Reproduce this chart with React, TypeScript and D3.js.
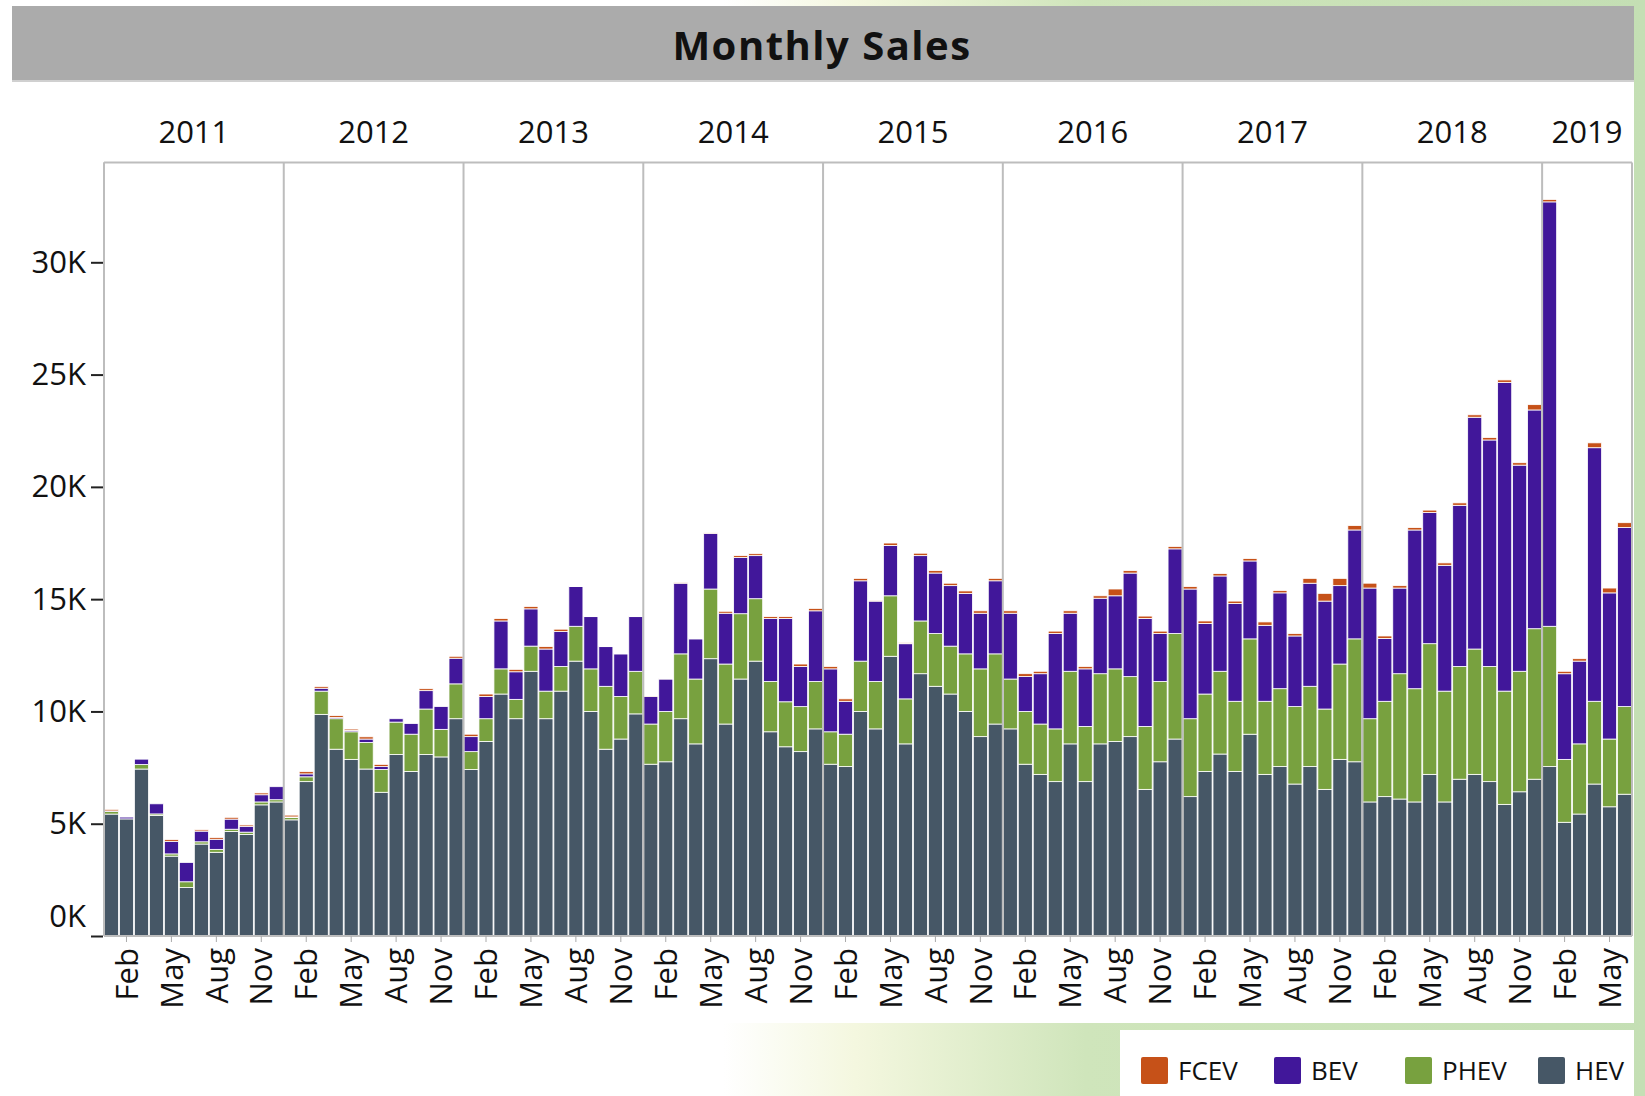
import React, { useEffect, useRef } from "react";
import * as d3 from "d3";

// --- data (units per month, Jan 2011 .. Jun 2019) ---
const years = ["2011", "2012", "2013", "2014", "2015", "2016", "2017", "2018", "2019"];
const monthNames = ["Jan", "Feb", "Mar", "Apr", "May", "Jun", "Jul", "Aug", "Sep", "Oct", "Nov", "Dec"];
const tickMonths = ["Feb", "May", "Aug", "Nov"];
const yTicks = [0, 5000, 10000, 15000, 20000, 25000, 30000];

const stackKeys = ["HEV", "PHEV", "BEV", "FCEV"];
const legendKeys = ["FCEV", "BEV", "PHEV", "HEV"];
const colors: Record<string, string> = {
  HEV: "#465766",
  PHEV: "#78a13f",
  BEV: "#41179a",
  FCEV: "#c65118"
};

const hev = [
  5430, 5215, 7435, 5366, 3556, 2155, 4095, 3728, 4655, 4525, 5840, 5969,
  5172, 6874, 9870, 8318, 7866, 7435, 6400, 8081, 7327, 8081, 7974, 9676,
  7413, 8663, 10775, 9676, 11788, 9676, 10904, 12240, 9999, 8318, 8771, 9891,
  7650, 7758, 9676, 8555, 12348, 9439, 11443, 12240, 9094, 8426, 8210, 9223,
  7650, 7543, 9999, 9223, 12456, 8555, 11680, 11120, 10775, 9999, 8878, 9439,
  9223, 7650, 7198, 6874, 8555, 6874, 8555, 8663, 8878, 6530, 7758, 8771,
  6206, 7327, 8103, 7327, 8986, 7198, 7543, 6767, 7543, 6530, 7866, 7758,
  5969, 6206, 6099, 5969, 7198, 5969, 6982, 7198, 6874, 5862, 6422, 6982,
  7543, 5064, 5431, 6767, 5754, 6314
];
const phev = [
  110, 0, 200, 70, 100, 260, 100, 130, 100, 100, 130, 100,
  100, 215, 1034, 1358, 1228, 1185, 1013, 1444, 1660, 2026, 1228, 1552,
  797, 1013, 1121, 862, 1121, 1228, 1099, 1552, 1896, 2801, 1896, 1896,
  1789, 2241, 2888, 2888, 3103, 2672, 2909, 2780, 2241, 2004, 2004, 2112,
  1444, 1444, 2241, 2112, 2694, 2004, 2349, 2349, 2133, 2565, 3017, 3125,
  2220, 2349, 2241, 2349, 3233, 2457, 3125, 3233, 2672, 2802, 3577, 4698,
  3470, 3448, 3685, 3125, 4245, 3254, 3470, 3448, 3577, 3577, 4245, 5474,
  3707, 4245, 5581, 5043, 5819, 4935, 5021, 5581, 5129, 5043, 5366, 6702,
  6249, 2801, 3125, 3685, 3017, 3901
];
const bev = [
  30, 80, 240, 450, 560, 860, 475, 450, 450, 260, 320, 580,
  30, 130, 130, 60, 60, 150, 130, 150, 474, 819, 1013, 1142,
  668, 991, 2133, 1228, 1659, 1875, 1552, 1767, 2327, 1767, 1896, 2435,
  1228, 1444, 3146, 1789, 2478, 2263, 2500, 1918, 2801, 3706, 1789, 3146,
  2801, 1465, 3577, 3577, 2241, 2457, 2909, 2694, 2694, 2694, 2478, 3254,
  2931, 1552, 2241, 4245, 2586, 2565, 3362, 3254, 4612, 4806, 2133, 3771,
  5775, 3146, 4245, 4353, 3470, 3383, 4267, 3146, 4590, 4806, 3491, 4849,
  5819, 2801, 3814, 7068, 5840, 5603, 7176, 10322, 10085, 13749, 9180, 9741,
  18899, 3814, 3685, 11292, 6508, 7974
];
const fcev = [
  70, 0, 0, 0, 80, 0, 60, 80, 80, 60, 80, 0,
  80, 100, 80, 80, 60, 100, 100, 0, 0, 86, 0, 86,
  108, 108, 108, 108, 108, 108, 108, 20, 20, 20, 20, 20,
  20, 20, 20, 20, 20, 86, 86, 86, 86, 86, 108, 108,
  108, 108, 108, 40, 108, 40, 108, 108, 108, 108, 108, 108,
  108, 130, 108, 108, 108, 108, 108, 302, 108, 108, 108, 108,
  108, 108, 108, 108, 108, 151, 108, 108, 216, 345, 323, 194,
  216, 108, 108, 108, 108, 108, 108, 108, 108, 108, 108, 237,
  108, 108, 108, 216, 216, 216
];

const W = 1645;
const H = 1096;
const FONT = "'Open Sans', 'Noto Sans', sans-serif";

export default function App() {
  const ref = useRef<SVGSVGElement>(null);

  useEffect(() => {
    const svg = d3.select(ref.current);
    svg.selectAll("*").remove();

    // rows, one per month
    const rows = hev.map((v, i) => {
      const year = years[Math.floor(i / 12)];
      const month = monthNames[i % 12];
      return {
        key: year + "-" + month,
        year,
        month,
        HEV: v,
        PHEV: phev[i],
        BEV: bev[i],
        FCEV: fcev[i]
      };
    });

    const left = 104;
    const right = 1632;
    const top = 162.6;
    const bottom = 936;

    const x = d3
      .scaleBand()
      .domain(rows.map(d => d.key))
      .range([left, right])
      .paddingInner(0.06)
      .paddingOuter(0.03);

    const y = d3.scaleLinear().domain([0, 34440]).range([bottom, top]);

    // background
    const defs = svg.append("defs");
    const grad = defs
      .append("linearGradient")
      .attr("id", "bg")
      .attr("x1", 0)
      .attr("x2", 1)
      .attr("y1", 0)
      .attr("y2", 0);
    grad.append("stop").attr("offset", 0).attr("stop-color", "#ffffff");
    grad.append("stop").attr("offset", 0.44).attr("stop-color", "#ffffff");
    grad.append("stop").attr("offset", 0.52).attr("stop-color", "#f4f7df");
    grad.append("stop").attr("offset", 0.66).attr("stop-color", "#cfe5bb");
    grad.append("stop").attr("offset", 1).attr("stop-color", "#c4dfb4");

    svg.append("rect").attr("width", W).attr("height", H).attr("fill", "url(#bg)");
    svg.append("rect").attr("x", 0).attr("y", 6).attr("width", 1634).attr("height", 1017).attr("fill", "#fff");
    svg.append("rect").attr("x", 1120).attr("y", 1030).attr("width", 514).attr("height", 66).attr("fill", "#fff");

    // title bar
    svg.append("rect").attr("x", 12).attr("y", 6).attr("width", 1622).attr("height", 74).attr("fill", "#ababab");
    svg.append("line").attr("x1", 12).attr("x2", 1634).attr("y1", 81).attr("y2", 81).attr("stroke", "#d0d0d0").attr("stroke-width", 2);
    svg
      .append("text")
      .attr("x", 822)
      .attr("y", 44)
      .attr("text-anchor", "middle")
      .attr("dominant-baseline", "central")
      .style("font-family", FONT)
      .style("font-weight", 700)
      .style("font-size", "40px")
      .style("letter-spacing", "1.5px")
      .attr("fill", "#111")
      .text("Monthly Sales");

    // stacked bars
    const series = d3.stack<any>().keys(stackKeys)(rows);
    svg
      .append("g")
      .selectAll("g")
      .data(series)
      .enter()
      .append("g")
      .attr("fill", s => colors[s.key])
      .selectAll("rect")
      .data(s => s)
      .enter()
      .append("rect")
      .attr("x", d => x(d.data.key) as number)
      .attr("width", x.bandwidth())
      .attr("y", d => y(d[1]))
      .attr("height", d => Math.max(0, y(d[0]) - y(d[1])))
      .attr("stroke", "#fff")
      .attr("stroke-width", 0.8);

    // frame and year separators
    const half = (x.step() * x.paddingInner()) / 2;
    const yearStarts = years.map(yr => {
      const first = rows.find(r => r.year === yr)!;
      return x(first.key)! - half;
    });
    const frame = svg.append("g").attr("stroke", "#bdbdbd").attr("stroke-width", 2);
    frame.append("line").attr("x1", left).attr("x2", right).attr("y1", top).attr("y2", top);
    frame.append("line").attr("x1", left).attr("x2", right).attr("y1", bottom).attr("y2", bottom);
    frame.append("line").attr("x1", right).attr("x2", right).attr("y1", top).attr("y2", bottom);
    frame
      .selectAll(".sep")
      .data(yearStarts)
      .enter()
      .append("line")
      .attr("x1", d => d)
      .attr("x2", d => d)
      .attr("y1", top)
      .attr("y2", bottom);
    frame.append("line").attr("x1", left).attr("x2", left).attr("y1", top).attr("y2", bottom);

    // year labels
    svg
      .append("g")
      .selectAll("text")
      .data(years)
      .enter()
      .append("text")
      .attr("x", (yr, i) => {
        const end = i < years.length - 1 ? yearStarts[i + 1] : right;
        return (yearStarts[i] + end) / 2;
      })
      .attr("y", 131)
      .attr("text-anchor", "middle")
      .attr("dominant-baseline", "central")
      .style("font-family", FONT)
      .style("font-size", "31px")
      .attr("fill", "#111")
      .text(d => d);

    // y axis
    const yAxis = svg
      .append("g")
      .attr("transform", "translate(" + (left - 1) + ",0)")
      .call(
        d3
          .axisLeft(y)
          .tickValues(yTicks)
          .tickSize(12)
          .tickPadding(5)
          .tickFormat(d => (d as number) / 1000 + "K")
      );
    yAxis.select(".domain").remove();
    yAxis.selectAll("line").attr("stroke", "#222").attr("stroke-width", 2);
    yAxis
      .selectAll("text")
      .style("font-family", FONT)
      .style("font-size", "31px")
      .attr("fill", "#111")
      .attr("dy", (d: any) => (d === 0 ? "-0.32em" : "0.32em"));

    // x axis
    const xAxis = svg
      .append("g")
      .attr("transform", "translate(0," + bottom + ")")
      .call(
        d3
          .axisBottom(x)
          .tickValues(rows.filter(r => tickMonths.includes(r.month)).map(r => r.key))
          .tickSize(6)
          .tickFormat(k => (k as string).split("-")[1])
      );
    xAxis.select(".domain").remove();
    xAxis.selectAll("line").attr("stroke", "#aaa");
    xAxis
      .selectAll("text")
      .attr("transform", "rotate(-90)")
      .attr("text-anchor", "end")
      .attr("x", -12)
      .attr("y", 0)
      .attr("dy", "0.36em")
      .style("font-family", FONT)
      .style("font-size", "31px")
      .attr("fill", "#111");

    // legend
    const legendX = [1141, 1274, 1405, 1538];
    const legend = svg
      .append("g")
      .selectAll("g")
      .data(legendKeys)
      .enter()
      .append("g")
      .attr("transform", (d, i) => "translate(" + legendX[i] + ",1070)");
    legend
      .append("rect")
      .attr("x", 0)
      .attr("y", -13)
      .attr("width", 27)
      .attr("height", 27)
      .attr("rx", 2)
      .attr("fill", d => colors[d]);
    legend
      .append("text")
      .attr("x", 37)
      .attr("y", 0)
      .attr("dominant-baseline", "central")
      .style("font-family", FONT)
      .style("font-size", "26px")
      .attr("fill", "#111")
      .text(d => d);
  }, []);

  return (
    <svg
      ref={ref}
      width={W}
      height={H}
      style={{ position: "absolute", left: 0, top: 0, display: "block" }}
    />
  );
}
